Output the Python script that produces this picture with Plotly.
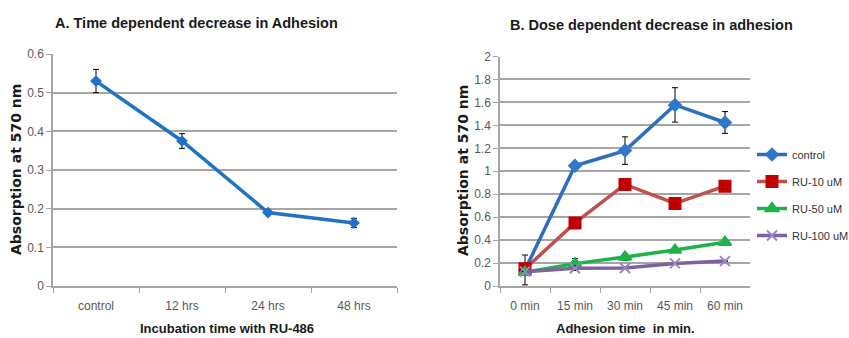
import plotly.graph_objects as go

W, H = 849, 338

# ---- Panel A data ----
a_categories = ["control", "12 hrs", "24 hrs", "48 hrs"]
a_values = [0.53, 0.375, 0.19, 0.163]
a_errors = [0.03, 0.019, 0.006, 0.012]

# ---- Panel B data ----
b_categories = ["0 min", "15 min", "30 min", "45 min", "60 min"]
b_series_names = ["control", "RU-10 uM", "RU-50 uM", "RU-100 uM"]
b_control = [0.14, 1.048, 1.18, 1.578, 1.425]
b_control_err = [0.13, 0.02, 0.12, 0.15, 0.095]
b_ru10 = [0.15, 0.55, 0.885, 0.72, 0.87]
b_ru10_err = [0.02, 0.0, 0.0, 0.0, 0.0]
b_ru50 = [0.12, 0.195, 0.253, 0.313, 0.382]
b_ru50_err = [0.0, 0.045, 0.03, 0.0, 0.0]
b_ru100 = [0.125, 0.155, 0.157, 0.197, 0.217]
b_ru100_err = [0.0, 0.02, 0.0, 0.0, 0.0]

a_yticks = [0, 0.1, 0.2, 0.3, 0.4, 0.5, 0.6]
b_yticks = [0, 0.2, 0.4, 0.6, 0.8, 1, 1.2, 1.4, 1.6, 1.8, 2]

NARROW = "Liberation Sans Narrow, Arial Narrow, Liberation Sans, Arial, sans-serif"
BOLDF = "Liberation Sans, Arial, sans-serif"
TICKC = "#595959"
GRID = "#a6a6a6"

fig = go.Figure()

def err(arr):
    return dict(type="data", array=arr, visible=True, color="black", thickness=1, width=3)

fig.add_trace(go.Scatter(
    x=a_categories, y=a_values, xaxis="x", yaxis="y", mode="lines+markers",
    line=dict(color="#1f72c4", width=3.5),
    marker=dict(symbol="diamond", size=9, color="#1f72c4"),
    error_y=err(a_errors), showlegend=False))

series = [
    (b_control, b_control_err, "#2e6fbd", "#2e78c8", "diamond", 9),
    (b_ru10, b_ru10_err, "#c0504d", "#c00000", "square", 11),
    (b_ru50, b_ru50_err, "#1fb24a", "#1fb24a", "triangle-up", 11),
    (b_ru100, b_ru100_err, "#7e62a0", "#9a86c0", "x-thin-open", 10),
]
for name, (vals, errs, lc, mc, sym, sz) in zip(b_series_names, series):
    fig.add_trace(go.Scatter(
        x=b_categories, y=vals, xaxis="x2", yaxis="y2", mode="lines+markers",
        name=name, legendgroup=name, line=dict(color=lc, width=3.5),
        marker=dict(symbol=sym, size=sz, color=mc, line=dict(color=mc, width=2)),
        error_y=err(errs)))

def xa(domain, anchor, n):
    return dict(domain=domain, anchor=anchor, type="category", range=[-0.5, n - 0.5],
                showline=True, linecolor=GRID, linewidth=1.5, ticks="outside",
                tickson="boundaries", ticklen=5, tickcolor=GRID, tickwidth=1,
                showgrid=False, zeroline=False, ticklabelstandoff=8,
                tickfont=dict(family=NARROW, size=12, color=TICKC))

def ya(domain, anchor, rng, ticks):
    return dict(domain=domain, anchor=anchor, range=rng, tickvals=ticks,
                ticktext=[("%g" % t) for t in ticks],
                showline=True, linecolor=GRID, linewidth=1.5, ticks="outside",
                ticklen=5, tickcolor=GRID, tickwidth=1,
                showgrid=True, gridcolor=GRID, gridwidth=1.5, zeroline=False,
                tickfont=dict(family=NARROW, size=12, color=TICKC))

fig.update_layout(
    width=W, height=H, margin=dict(l=0, r=0, t=0, b=0, pad=0, autoexpand=False),
    paper_bgcolor="white", plot_bgcolor="white",
    xaxis=xa([53 / W, 397 / W], "y", 4),
    yaxis=ya([1 - 286 / H, 1 - 54 / H], "x", [0, 0.6], a_yticks),
    xaxis2=xa([500 / W, 750 / W], "y2", 5),
    yaxis2=ya([1 - 286 / H, 1 - 56.5 / H], "x2", [0, 2], b_yticks),
    legend=dict(x=752 / W, y=1 - 140 / H, xanchor="left", yanchor="top",
                font=dict(family=NARROW, size=11, color="#333333"),
                tracegroupgap=8, itemwidth=30, bgcolor="rgba(0,0,0,0)"),
    showlegend=True,
)

def ann(text, x, y, size, angle=0, family=BOLDF):
    fig.add_annotation(text="<b>%s</b>" % text, x=x / W, y=1 - y / H, xref="paper", yref="paper",
                       showarrow=False, textangle=angle, xanchor="center", yanchor="middle",
                       font=dict(family=family, size=size, color="#1a1a1a"))

ann("A. Time dependent decrease in Adhesion", 196, 23, 14.5)
ann("B. Dose dependent decrease in adhesion", 651, 25, 14.5)
ann("Incubation time with RU-486", 227, 328, 13)
ann("Adhesion time  in min.", 625, 328, 13)
ann("Absorption at 570 nm", 16, 170, 14, -90, "DejaVu Sans, Verdana, sans-serif")
ann("Absorption at 570 nm", 463, 171, 14, -90, "DejaVu Sans, Verdana, sans-serif")

fig.write_html("out.html", config={"responsive": False},
               post_script="document.body.style.margin='0';document.body.style.overflow='hidden';")
